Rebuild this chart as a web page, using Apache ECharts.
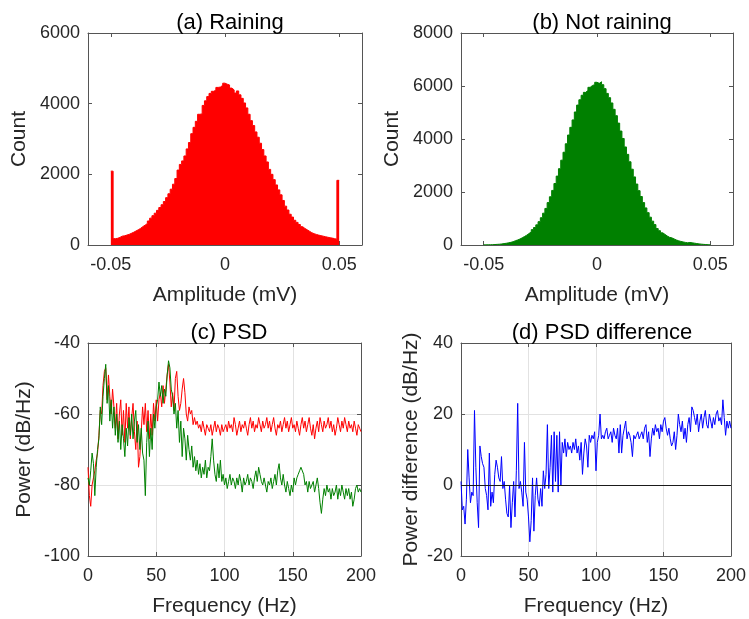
<!DOCTYPE html>
<html>
<head>
<meta charset="utf-8">
<script src="https://cdn.jsdelivr.net/npm/echarts@6/dist/echarts.min.js"></script>
<style>
html,body{margin:0;padding:0;background:#fff;}
#chart{width:749px;height:619px;}
</style>
</head>
<body>
<div id="chart"></div>
<script>
// ---------- DATA ----------
const titles = ['(a) Raining', '(b) Not raining', '(c) PSD', '(d) PSD difference'];
const histBinStart = -0.05;
const histBinWidth = 0.001;
const amplitudeTicks = [-0.05, 0, 0.05];

const countRaining = [
  2090, 180, 190, 215, 250, 260, 280, 300, 330, 360,
  395, 430, 470, 520, 560, 610, 680, 760, 830, 900,
  980, 1060, 1140, 1230, 1340, 1450, 1580, 1720, 1880, 2120,
  2280, 2380, 2520, 2720, 2900, 3150, 3330, 3500, 3700, 3710,
  3950, 4080, 4200, 4290, 4350, 4380, 4460, 4470, 4520, 4580,
  4550, 4530, 4440, 4390, 4300, 4360, 4250, 4150, 4020, 3880,
  3700, 3520, 3380, 3200, 3050, 2880, 2700, 2520, 2350, 2140,
  2000, 1850, 1700, 1560, 1420, 1260, 1100, 990, 870, 790,
  700, 640, 580, 520, 470, 430, 390, 350, 320, 300,
  280, 265, 250, 235, 220, 205, 195, 180, 165, 1830
];

const countNotRaining = [
  5, 8, 10, 14, 18, 24, 30, 40, 52, 66,
  82, 100, 125, 160, 190, 225, 270, 320, 370, 430,
  500, 580, 660, 760, 880, 1030, 1200, 1380, 1600, 1820,
  2060, 2320, 2600, 2880, 3200, 3500, 3820, 4150, 4440, 4720,
  5020, 5280, 5480, 5650, 5760, 5830, 5950, 6020, 6050, 6140,
  6100, 6160, 6050, 5900, 5720, 5560, 5360, 5120, 4880, 4600,
  4300, 4020, 3700, 3420, 3140, 2860, 2570, 2300, 2050, 1830,
  1600, 1400, 1220, 1050, 900, 770, 620, 540, 460, 400,
  340, 290, 270, 230, 190, 160, 135, 115, 98, 82,
  95, 82, 70, 55, 42, 32, 24, 17, 12, 8
];

const freqStep = 1; // Hz
const psdRaining = [
  -75, -83, -86, -80, -78, -76, -73, -71, -66, -59, -60, -52, -48, -47, -56, -49, -55, -60, -53, -58, -64,
  -57, -67, -60, -56, -66, -59, -68, -57, -64, -58, -67, -61, -57, -65, -70, -62, -75, -72, -65, -58,
  -63, -57, -65, -59, -67, -60, -66, -57, -62, -56, -62, -56, -54, -58, -52, -57, -53, -49, -46, -51,
  -58, -54, -59, -50, -48, -55, -59, -57, -53, -50, -54, -60, -62, -58, -60, -59, -63, -61, -63, -62,
  -64, -63, -65, -62, -64, -66, -63, -64, -65, -63, -66, -64, -62, -65, -63, -64, -66, -63, -65, -64,
  -63, -65, -62, -64, -63, -65, -61, -63, -66, -64, -62, -65, -63, -64, -62, -64, -66, -63, -61, -64,
  -62, -65, -63, -64, -61, -63, -65, -62, -64, -63, -61, -64, -62, -65, -63, -61, -64, -66, -63, -64,
  -62, -65, -63, -61, -64, -62, -65, -63, -61, -64, -63, -65, -62, -64, -66, -63, -61, -64, -62, -65,
  -63, -61, -64, -66, -63, -67, -64, -62, -65, -61, -63, -65, -62, -64, -63, -61, -64, -62, -65, -63,
  -66, -64, -61, -63, -65, -62, -64, -61, -63, -65, -62, -64, -63, -65, -62, -64, -66, -63, -64, -65
];
const psdNotRaining = [
  -78, -80, -76, -71, -74, -83, -75, -70, -67, -58, -63, -55, -50, -46, -57, -52, -62, -56, -64, -58, -66,
  -60, -68, -62, -70, -63, -67, -72, -64, -69, -61, -66, -60, -67, -62, -59, -68, -63, -70, -64, -71,
  -73, -83, -68, -62, -72, -64, -70, -60, -64, -58, -56, -51, -55, -52, -57, -53, -55, -49, -45, -47,
  -53, -55, -60, -57, -64, -59, -68, -62, -72, -64, -67, -73, -66, -70, -73, -69, -75, -72, -76, -73,
  -77, -74, -78, -75, -77, -73, -78, -75, -76, -72, -67, -73, -77, -79, -74, -78, -73, -79, -77, -80,
  -78, -81, -79, -77, -80, -78, -79, -81, -78, -80, -77, -79, -82, -78, -80, -79, -77, -80, -78, -79,
  -81, -78, -76, -79, -75, -77, -79, -80, -78, -80, -82, -79, -80, -78, -81, -79, -77, -80, -76, -74,
  -78, -80, -77, -80, -82, -79, -81, -83, -80, -82, -78, -80, -78, -77, -76, -75, -75, -77, -80, -79,
  -82, -79, -81, -80, -79, -82, -80, -78, -81, -85, -88, -84, -81, -83, -80, -82, -81, -84, -81, -83,
  -82, -80, -84, -81, -83, -80, -82, -84, -81, -83, -81, -84, -82, -86, -84, -81, -80, -82, -81, -82
];
const psdDifference = [
  1, -7, -6, -11, -4, 10, 2, -5, -2, -3, 21, 5, -5, -12, 11, 8, 6, 5, -1, -3, -7,
  9, -6, -2, -5, 3, 7, 5, 2, 1, 8, -1, 1, -4, -8, -9, 0, -12, -5, 1, -9,
  4, 23, -1, 1, -2, -6, 12, -2, -4, -9, -16, -10, 2, -13, -3, 2, -4, -6, -1, -6,
  4, -1, 3, 17, -1, 5, 14, -2, 15, 1, 14, -2, 15, 0, 12, 9, 13, 8, 12, 10,
  11, 9, 12, 10, 13, 9, 11, 7, 12, 3, 9, 13, 11, 5, 14, 12, 14, 13, 15, 4,
  12, 14, 20, 13, 14, 13, 15, 16, 13, 14, 15, 12, 16, 14, 13, 16, 9, 17, 9, 14,
  16, 18, 13, 15, 14, 12, 8, 14, 13, 14, 15, 13, 14, 15, 13, 16, 17, 12, 15, 8,
  13, 16, 14, 17, 15, 16, 13, 17, 15, 18, 19, 16, 14, 16, 13, 11, 12, 15, 10, 14,
  20, 17, 15, 18, 13, 16, 12, 17, 19, 15, 22, 21, 19, 17, 20, 15, 18, 20, 16, 19,
  21, 17, 16, 20, 18, 16, 19, 17, 20, 21, 18, 19, 17, 24, 19, 14, 18, 16, 18, 16
];
const zeroLevel = 0;

// ---------- BUILD ----------
function histSteps(counts) {
  const pts = counts.map((c, i) => [histBinStart + i * histBinWidth, c]);
  pts.push([histBinStart + counts.length * histBinWidth, counts[counts.length - 1]]);
  return pts;
}
function freqPairs(vals) {
  return vals.map((v, i) => [i * freqStep, v]);
}

const FONT = 'Liberation Sans, Arial, Helvetica, sans-serif';
const TXT = '#262626';
const BOX = '#555555';

const grids = [
  {left: 88, top: 33, width: 274, height: 212},
  {left: 461, top: 33, width: 272, height: 212},
  {left: 88, top: 343, width: 273, height: 213},
  {left: 461, top: 343, width: 272, height: 213}
];

const xSpec = [
  {min: -0.06, max: 0.06, custom: amplitudeTicks, name: 'Amplitude (mV)', grid: false},
  {min: -0.06, max: 0.06, custom: amplitudeTicks, name: 'Amplitude (mV)', grid: false},
  {min: 0, max: 200, interval: 50, name: 'Frequency (Hz)', grid: true},
  {min: 0, max: 200, interval: 50, name: 'Frequency (Hz)', grid: true}
];
const ySpec = [
  {min: 0, max: 6000, interval: 2000, name: 'Count', gap: 58, grid: false},
  {min: 0, max: 8000, interval: 2000, name: 'Count', gap: 58, grid: false},
  {min: -100, max: -40, interval: 20, name: 'Power (dB/Hz)', gap: 53, grid: true},
  {min: -20, max: 40, interval: 20, name: 'Power difference (dB/Hz)', gap: 39, grid: true}
];

const plain = v => String(v);

const xAxes = [], yAxes = [];
xSpec.forEach((s, g) => {
  const base = {
    type: 'value', gridIndex: g, min: s.min, max: s.max,
    axisLine: {show: true, onZero: false, lineStyle: {color: BOX, width: 1}},
    axisTick: {show: true, inside: true, length: 4, lineStyle: {color: BOX}},
  };
  if (s.interval) base.interval = s.interval;
  if (s.custom) base.axisTick.customValues = s.custom;
  xAxes.push(Object.assign({}, base, {
    position: 'bottom',
    name: s.name, nameLocation: 'middle', nameGap: 40,
    nameTextStyle: {fontFamily: FONT, fontSize: 21, color: TXT},
    axisLabel: Object.assign({show: true, margin: 11, fontFamily: FONT, fontSize: 18, color: TXT,
      formatter: plain}, s.custom ? {customValues: s.custom} : {}),
    splitLine: {show: s.grid, lineStyle: {color: '#e2e2e2', width: 1}}
  }));
  xAxes.push(Object.assign({}, base, {
    position: 'top',
    axisLabel: {show: false},
    splitLine: {show: false}
  }));
});
ySpec.forEach((s, g) => {
  const base = {
    type: 'value', gridIndex: g, min: s.min, max: s.max, interval: s.interval,
    axisLine: {show: true, onZero: false, lineStyle: {color: BOX, width: 1}},
    axisTick: {show: true, inside: true, length: 4, lineStyle: {color: BOX}},
  };
  yAxes.push(Object.assign({}, base, {
    position: 'left',
    name: s.name, nameLocation: 'middle', nameGap: s.gap, nameRotate: 90,
    nameTextStyle: {fontFamily: FONT, fontSize: 21, color: TXT},
    axisLabel: {show: true, margin: 8, fontFamily: FONT, fontSize: 18, color: TXT, formatter: plain},
    splitLine: {show: s.grid, lineStyle: {color: '#e2e2e2', width: 1}}
  }));
  yAxes.push(Object.assign({}, base, {
    position: 'right',
    axisLabel: {show: false},
    splitLine: {show: false}
  }));
});

const titleCenters = [225, 597, 224, 597];
const titleTops = [7, 7, 317, 317];
const titleOpt = titles.map((t, i) => ({
  text: t, left: titleCenters[i], top: titleTops[i], textAlign: 'center',
  textStyle: {fontFamily: FONT, fontSize: 22, fontWeight: 'normal', color: '#000'}
}));

const series = [
  {
    type: 'line', xAxisIndex: 0, yAxisIndex: 0, data: histSteps(countRaining),
    step: 'end', showSymbol: false, symbol: 'none',
    lineStyle: {color: '#ff0000', width: 1}, areaStyle: {color: '#ff0000', opacity: 1}
  },
  {
    type: 'line', xAxisIndex: 2, yAxisIndex: 2, data: histSteps(countNotRaining),
    step: 'end', showSymbol: false, symbol: 'none',
    lineStyle: {color: '#008000', width: 1}, areaStyle: {color: '#008000', opacity: 1}
  },
  {
    type: 'line', xAxisIndex: 4, yAxisIndex: 4, data: freqPairs(psdRaining),
    showSymbol: false, symbol: 'none', lineStyle: {color: '#ff0000', width: 1}
  },
  {
    type: 'line', xAxisIndex: 4, yAxisIndex: 4, data: freqPairs(psdNotRaining),
    showSymbol: false, symbol: 'none', lineStyle: {color: '#008000', width: 1}
  },
  {
    type: 'line', xAxisIndex: 6, yAxisIndex: 6, data: freqPairs(psdDifference),
    showSymbol: false, symbol: 'none', lineStyle: {color: '#0000ff', width: 1},
    markLine: {
      silent: true, symbol: 'none', label: {show: false}, animation: false,
      lineStyle: {color: '#1a1a1a', type: 'solid', width: 1},
      data: [{yAxis: zeroLevel}]
    }
  }
];

const chart = echarts.init(document.getElementById('chart'), null, {renderer: 'canvas'});
chart.setOption({
  animation: false,
  backgroundColor: '#ffffff',
  title: titleOpt,
  grid: grids,
  xAxis: xAxes,
  yAxis: yAxes,
  series: series
});
</script>
</body>
</html>
